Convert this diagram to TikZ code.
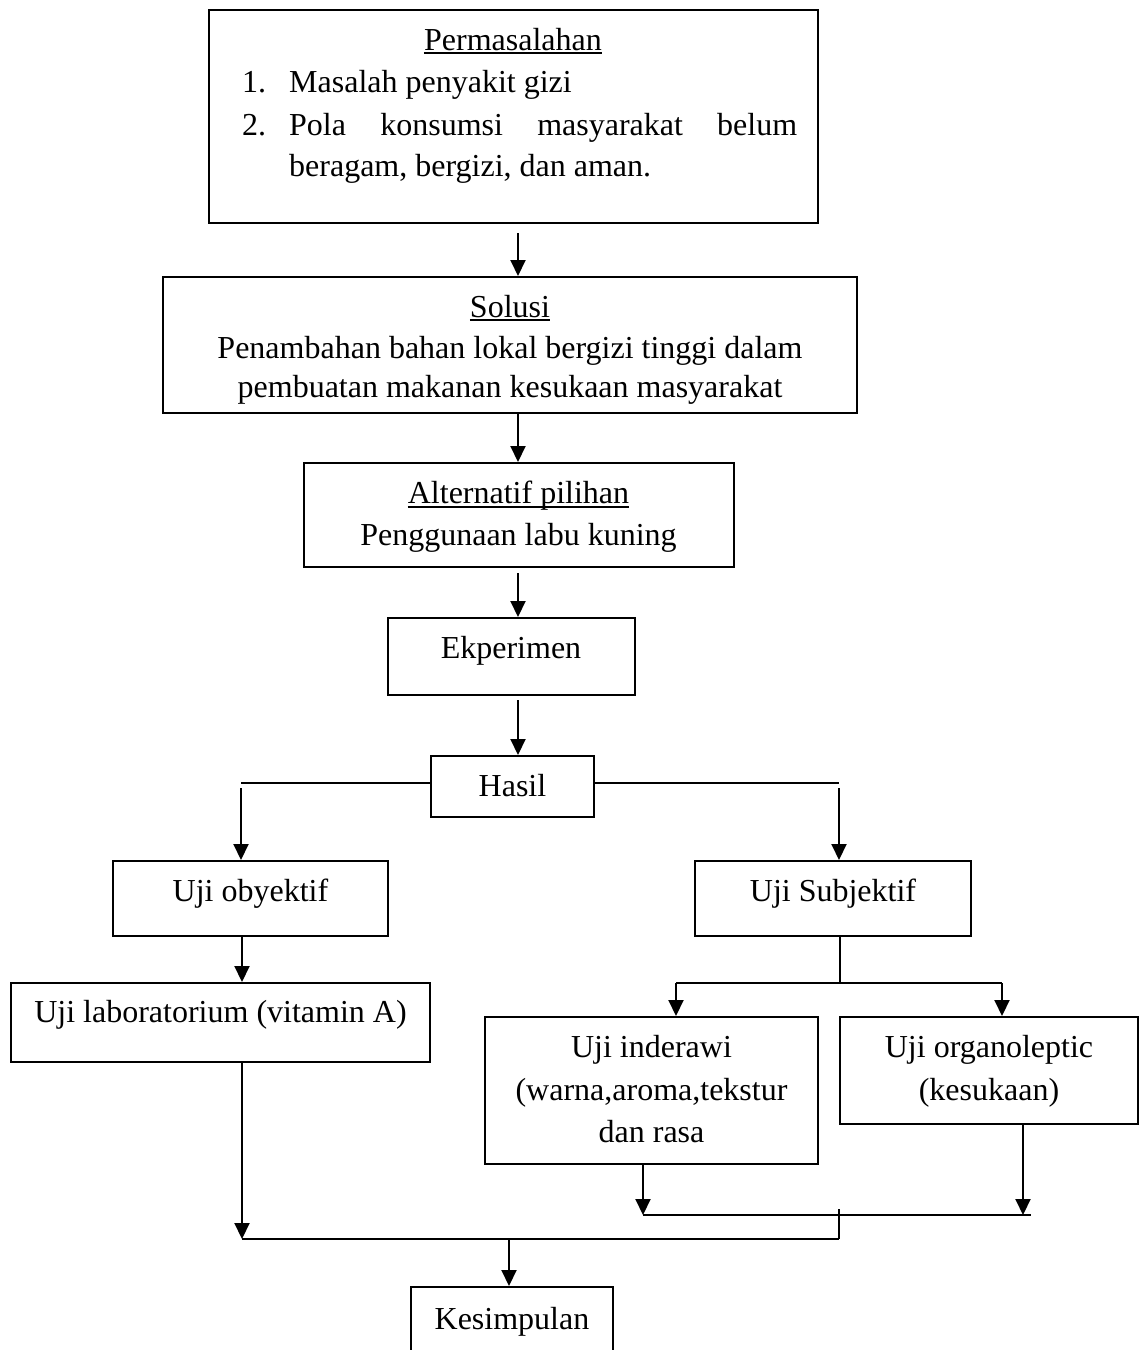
\documentclass[tikz,border=0pt]{standalone}
\usepackage{fontspec}
\setmainfont{Liberation Serif}
\usetikzlibrary{arrows.meta,calc}
\tikzset{
  box/.style={draw, line width=2pt, inner sep=0pt},
  txt/.style={inner sep=0pt, anchor=base, font=\fontsize{32}{42}\selectfont},
  txtl/.style={inner sep=0pt, anchor=base west, font=\fontsize{32}{42}\selectfont},
  conn/.style={line width=2pt},
  uln/.style={line width=1.6pt},
  arr/.style={line width=2pt, -{Triangle[length=16pt,width=15pt]}}
}
\begin{document}
\begin{tikzpicture}[x=1pt,y=-1pt]
\useasboundingbox[fill=white] (0,0) rectangle (1143,1350);
% boxes
\node[box, minimum width=609pt, minimum height=213pt] (b1) at (513.5,116.5) {};
\node[box, minimum width=694pt, minimum height=136pt] (b2) at (510,345) {};
\node[box, minimum width=430pt, minimum height=104pt] (b3) at (519,515) {};
\node[box, minimum width=247pt, minimum height=77pt] (b4) at (511.5,656.5) {};
\node[box, minimum width=163pt, minimum height=61pt] (b5) at (512.5,786.5) {};
\node[box, minimum width=275pt, minimum height=75pt] (b6) at (250.5,898.5) {};
\node[box, minimum width=276pt, minimum height=75pt] (b7) at (833,898.5) {};
\node[box, minimum width=419pt, minimum height=79pt] (b8) at (220.5,1022.5) {};
\node[box, minimum width=333pt, minimum height=147pt] (b9) at (651.5,1090.5) {};
\node[box, minimum width=298pt, minimum height=107pt] (b10) at (989,1070.5) {};
\node[box, minimum width=202pt, minimum height=77pt] (b11) at (512,1325.5) {};
% texts
\node[txt] (t1a) at (513,50) {Permasalahan};
\node[txtl] (t1b) at (242,92) {1.};
\node[txtl] (t1c) at (289,92) {Masalah penyakit gizi};
\node[txtl] (t1d) at (242,135) {2.};
\node[txtl] (t1e) at (289,135) {\makebox[508pt][s]{Pola konsumsi masyarakat belum}};
\node[txtl] (t1f) at (289,176) {beragam, bergizi, dan aman.};
\node[txt] (t2a) at (510,317) {Solusi};
\node[txt] (t2b) at (510,358) {Penambahan bahan lokal bergizi tinggi dalam};
\node[txt] (t2c) at (510,397) {pembuatan makanan kesukaan masyarakat};
\node[txt] (t3a) at (518.5,503) {Alternatif pilihan};
\node[txt] (t3b) at (518.5,545) {Penggunaan labu kuning};
\node[txt] (t4) at (511,658) {Ekperimen};
\node[txt] (t5) at (512.5,796) {Hasil};
\node[txt] (t6) at (250.5,901) {Uji obyektif};
\node[txt] (t7) at (833,901) {Uji Subjektif};
\node[txt] (t8) at (220.5,1022) {Uji laboratorium (vitamin A)};
\node[txt] (t9a) at (651.5,1057) {Uji inderawi};
\node[txt] (t9b) at (651.5,1100) {(warna,aroma,tekstur};
\node[txt] (t9c) at (651.5,1142) {dan rasa};
\node[txt] (t10a) at (989,1057) {Uji organoleptic};
\node[txt] (t10b) at (989,1100) {(kesukaan)};
\node[txt] (t11) at (512,1329) {Kesimpulan};
% underlines
\draw[uln] ($(t1a.base west)+(0,3)$) -- ($(t1a.base east)+(0,3)$);
\draw[uln] ($(t2a.base west)+(0,3)$) -- ($(t2a.base east)+(0,3)$);
\draw[uln] ($(t3a.base west)+(0,4)$) -- ($(t3a.base east)+(0,4)$);
% junction coordinates
\coordinate (a1) at (518,233);
\coordinate (a3) at (518,573);
\coordinate (a4) at (518,700);
\coordinate (hL) at (241,783);
\coordinate (hR) at (839,783);
\coordinate (oA) at (242,936);
\coordinate (sJ) at (840,983);
\coordinate (sL) at (676,983);
\coordinate (sR) at (1002,983);
\coordinate (iA) at (643,1164);
\coordinate (gA) at (1023,1124);
\coordinate (mL) at (643,1215);
\coordinate (mR) at (1031,1215);
\coordinate (mM) at (839,1209);
\coordinate (lA) at (242,1062);
\coordinate (bL) at (242,1239);
\coordinate (bR) at (839,1239);
\coordinate (kA) at (509,1239);
% connectors
\draw[arr] (a1) -- (a1 |- b2.north);
\draw[arr] (b2.south -| a1) -- (a1 |- b3.north);
\draw[arr] (a3) -- (a3 |- b4.north);
\draw[arr] (a4) -- (a4 |- b5.north);
\draw[conn] (b5.west |- hL) -- (hL);
\draw[conn] (b5.east |- hR) -- (hR);
\draw[arr] ($(hL)+(0,5)$) -- (hL |- b6.north);
\draw[arr] ($(hR)+(0,5)$) -- (hR |- b7.north);
\draw[arr] (oA) -- (oA |- b8.north);
\draw[conn] (sJ |- b7.south) -- (sJ);
\draw[conn] (sL) -- (sR);
\draw[arr] (sL) -- (sL |- b9.north);
\draw[arr] (sR) -- (sR |- b10.north);
\draw[arr] (iA) -- (mL);
\draw[arr] (gA) -- (gA |- mR);
\draw[conn] (mL) -- (mR);
\draw[conn] (mM) -- (bR);
\draw[arr] (lA) -- (bL);
\draw[conn] (bL) -- (bR);
\draw[arr] (kA) -- (kA |- b11.north);
\end{tikzpicture}
\end{document}
